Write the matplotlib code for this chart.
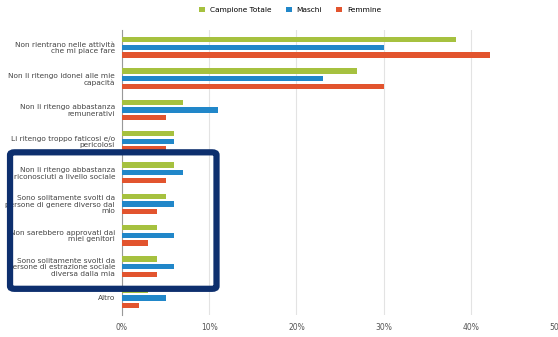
import matplotlib.pyplot as plt
import matplotlib.patches as mpatches
import numpy as np

labels = [
    "Non rientrano nelle attività\nche mi piace fare",
    "Non li ritengo idonei alle mie\ncapacità",
    "Non li ritengo abbastanza\nremunerativi",
    "Li ritengo troppo faticosi e/o\npericolosi",
    "Non li ritengo abbastanza\nriconosciuti a livello sociale",
    "Sono solitamente svolti da\npersone di genere diverso dal\nmio",
    "Non sarebbero approvati dai\nmiei genitori",
    "Sono solitamente svolti da\npersone di estrazione sociale\ndiversa dalla mia",
    "Altro",
]
totale = [38.3, 27, 7, 6, 6, 5, 4, 4, 3]
maschi = [30, 23, 11, 6, 7, 6, 6, 6, 5]
femmine = [42.2, 30, 5, 5, 5, 4, 3, 4, 2]
series = ["Campione Totale", "Maschi", "Femmine"]
colors = ["#a6c13f", "#2187c9", "#e2542e"]

fig = plt.figure(figsize=(5.58, 3.37), dpi=100)
ax = fig.add_axes([0.2186, 0.065, 0.7814, 0.846])

y = np.arange(len(labels))
h = 0.17
off = 0.245
for vals, name, c, d in zip([totale, maschi, femmine], series, colors, [-off, 0, off]):
    ax.barh(y + d, vals, height=h, color=c, label=name, zorder=3)

ax.set_xlim(0, 50)
ax.set_ylim(8.55, -0.55)
ax.set_xticks([0, 10, 20, 30, 40, 50])
ax.set_xticklabels(["0%", "10%", "20%", "30%", "40%", "50%"])
ax.set_yticks(y)
ax.set_yticklabels(labels, fontsize=5.3, color="#444444", linespacing=1.1)
ax.tick_params(axis="x", labelsize=5.5, labelcolor="#555555", length=0, pad=6)
ax.tick_params(axis="y", length=0, pad=5)
ax.grid(axis="x", color="#e3e3e3", linewidth=0.8, zorder=0)
for s in ["top", "right", "bottom"]:
    ax.spines[s].set_visible(False)
ax.spines["left"].set_color("#999999")
ax.spines["left"].set_linewidth(0.8)

fig.legend(loc="upper center", bbox_to_anchor=(0.52, 1.0), ncol=3, frameon=False,
           fontsize=5.3, handlelength=0.8, handleheight=0.8, columnspacing=2.0,
           handletextpad=0.6)

# highlight box
box = mpatches.FancyBboxPatch((0.018, 0.143), 0.37, 0.405, transform=fig.transFigure,
                              boxstyle="round,pad=0,rounding_size=0.008",
                              fill=False, edgecolor="#0d2f6e", linewidth=4.5, zorder=10)
fig.patches.append(box)

fig.savefig("out.png", dpi=100)
